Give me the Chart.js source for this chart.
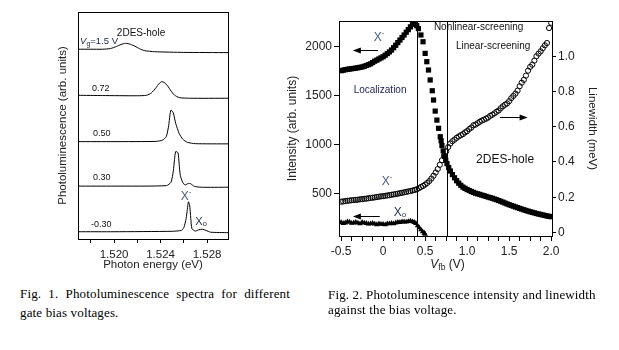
<!DOCTYPE html>
<html>
<head>
<meta charset="utf-8">
<script src="https://cdn.jsdelivr.net/npm/chart.js@4.4.1/dist/chart.umd.min.js"></script>
<style>
  html, body { margin: 0; padding: 0; background: #fff; }
  body { width: 619px; height: 350px; position: relative; overflow: hidden; }
  canvas { position: absolute; top: 0; }
  #fig1 { left: 0; }
  #fig2 { left: 278px; }
  .cap { position: absolute; font-family: 'Liberation Serif', 'Times New Roman', serif; font-size: 13px; letter-spacing: 0.15px; color: #000; }
  #cap1 { left: 20px; top: 284px; width: 270px; line-height: 19px; }
  #cap1 .l1 { text-align: justify; text-align-last: justify; }
  #cap2 { left: 328px; top: 287px; line-height: 15px; white-space: nowrap; }
</style>
</head>
<body>
<canvas id="fig1" width="290" height="280"></canvas>
<canvas id="fig2" width="341" height="280"></canvas>
<div class="cap" id="cap1"><div class="l1">Fig. 1. Photoluminescence spectra for different</div><div>gate bias voltages.</div></div>
<div class="cap" id="cap2">Fig. 2. Photoluminescence intensity and linewidth<br>against the bias voltage.</div>
<script>
// ---- Fig. 1: PL spectra (offset traces, arb. units) ----
const e150 = [1.5169, 1.5180, 1.5190, 1.5197, 1.5202, 1.5206, 1.5210, 1.5214, 1.5218, 1.5222, 1.5226, 1.5235, 1.5260, 1.5298];
const i150 = [83.6, 83.6, 83.6, 83.9, 84.8, 85.7, 86.2, 85.8, 84.9, 83.8, 83.0, 82.5, 82.2, 82.1];
const e072 = [1.5169, 1.5190, 1.5220, 1.5228, 1.5232, 1.5236, 1.5239, 1.5241, 1.5243, 1.5246, 1.5249, 1.5252, 1.5256, 1.5265, 1.5298];
const i072 = [63.3, 63.2, 63.1, 63.3, 64.3, 66.6, 68.6, 69.3, 69.0, 67.5, 65.2, 63.4, 62.3, 62.0, 62.0];
const e050 = [1.5169, 1.5200, 1.5236, 1.5242, 1.5245, 1.5247, 1.5248, 1.5249, 1.5251, 1.5253, 1.5256, 1.5259, 1.5263, 1.5270, 1.5298];
const i050 = [42.9, 42.9, 43.0, 43.6, 45.2, 50.0, 54.5, 56.8, 55.5, 51.0, 46.5, 44.0, 42.6, 42.0, 41.9];
const e030 = [1.5169, 1.5200, 1.5245, 1.5249, 1.5251, 1.5252, 1.5253, 1.5255, 1.5256, 1.5257, 1.5259, 1.5261, 1.5264, 1.5266, 1.5269, 1.5275, 1.5298];
const i030 = [23.3, 23.3, 23.5, 25.0, 30.0, 35.0, 38.5, 38.0, 33.0, 28.0, 25.0, 23.8, 24.5, 24.3, 23.2, 22.8, 22.8];
const em030 = [1.5169, 1.5200, 1.5250, 1.5258, 1.5260, 1.5262, 1.5263, 1.5264, 1.5265, 1.5266, 1.5267, 1.5270, 1.5273, 1.5276, 1.5279, 1.5283, 1.5298];
const im030 = [3.2, 3.2, 3.4, 3.8, 5.0, 9.0, 13.0, 16.4, 15.0, 9.0, 4.5, 3.5, 4.1, 4.3, 3.8, 3.0, 2.8];

const energyTicks = [1.518, 1.520, 1.522, 1.524, 1.526, 1.528];
const energyLabels = ['1.520', '1.524', '1.528'];

// ---- Fig. 2: intensity and linewidth vs bias ----
const vXm = [-0.5, -0.475, -0.45, -0.425, -0.4, -0.375, -0.35, -0.325, -0.3, -0.275, -0.25, -0.225, -0.2, -0.175, -0.15, -0.125,
  -0.1, -0.075, -0.05, -0.025, 0, 0.025, 0.05, 0.075, 0.1, 0.125, 0.15, 0.175, 0.2, 0.225, 0.25, 0.275, 0.3, 0.325, 0.35, 0.37, 0.385, 0.4, 0.42,
  0.45, 0.475, 0.5, 0.52, 0.54, 0.56, 0.585, 0.6, 0.62, 0.64, 0.66, 0.68, 0.69, 0.70, 0.715, 0.73, 0.745,
  0.76, 0.78, 0.8, 0.825, 0.85, 0.875, 0.9, 0.925, 0.95, 0.975, 1.0, 1.025, 1.05, 1.075, 1.1, 1.125, 1.15, 1.175, 1.2, 1.225, 1.25, 1.275,
  1.3, 1.325, 1.35, 1.375, 1.4, 1.425, 1.45, 1.475, 1.5, 1.525, 1.55, 1.575, 1.6, 1.625, 1.65, 1.675, 1.7, 1.725, 1.75, 1.775, 1.8, 1.825,
  1.85, 1.875, 1.9, 1.925, 1.95, 1.975, 2.0];
const intXm = [1755, 1760, 1765, 1769, 1772, 1775, 1778, 1781, 1785, 1789, 1793, 1800, 1808, 1816, 1825, 1838,
  1852, 1863, 1875, 1886, 1898, 1913, 1930, 1947, 1966, 1990, 2015, 2042, 2068, 2094, 2120, 2148, 2175, 2203, 2230, 2250, 2240, 2215, 2185,
  2120, 2051, 1932, 1847, 1762, 1660, 1550, 1455, 1342, 1250, 1166, 1080, 1040, 990, 935, 880, 840,
  805, 765, 730, 693, 660, 630, 605, 583, 565, 552, 540, 530, 520, 511, 502, 496, 490, 483, 477, 470, 463, 457,
  451, 443, 436, 428, 420, 411, 402, 393, 385, 377, 370, 362, 355, 347, 340, 333, 326, 319, 313, 307, 301, 295,
  290, 285, 280, 275, 270, 266, 262];
const vX0 = [-0.5, -0.475, -0.45, -0.425, -0.4, -0.375, -0.35, -0.325, -0.3, -0.275, -0.25, -0.225, -0.2, -0.175, -0.15, -0.125,
  -0.1, -0.075, -0.05, -0.025, 0, 0.025, 0.05, 0.075, 0.1, 0.125, 0.15, 0.175, 0.2, 0.225, 0.25, 0.275, 0.3, 0.325, 0.35, 0.37, 0.39,
  0.41, 0.43, 0.45, 0.47, 0.49, 0.5];
const intX0 = [205, 195, 200, 210, 208, 196, 200, 205, 198, 190, 205, 198, 195, 188, 190, 196,
  188, 182, 192, 186, 185, 180, 190, 192, 195, 190, 200, 205, 205, 212, 210, 208, 215, 218, 212, 205, 195,
  170, 150, 130, 110, 95, 85];
const vLw = [-0.5, -0.475, -0.45, -0.425, -0.4, -0.375, -0.35, -0.325, -0.3, -0.275, -0.25, -0.225, -0.2, -0.175, -0.15, -0.125,
  -0.1, -0.075, -0.05, -0.025, 0, 0.025, 0.05, 0.075, 0.1, 0.125, 0.15, 0.175, 0.2, 0.225, 0.25, 0.275, 0.3, 0.325, 0.35, 0.375,
  0.4, 0.425, 0.45, 0.475, 0.5, 0.525, 0.55, 0.575, 0.6, 0.625, 0.65, 0.675, 0.7, 0.725, 0.75, 0.775, 0.8, 0.825, 0.85, 0.875,
  0.9, 0.925, 0.95, 0.975, 1.0, 1.025, 1.05, 1.075, 1.1, 1.125, 1.15, 1.175, 1.2, 1.225, 1.25, 1.275, 1.3, 1.325, 1.35, 1.375,
  1.4, 1.425, 1.45, 1.475, 1.5, 1.525, 1.55, 1.575, 1.6, 1.625, 1.65, 1.675, 1.7, 1.725, 1.75, 1.775, 1.8, 1.825, 1.85, 1.875,
  1.9, 1.925, 1.95, 1.975, 2.0];
const linewidth = [0.175, 0.176, 0.178, 0.18, 0.181, 0.183, 0.184, 0.185, 0.186, 0.188, 0.189, 0.191, 0.192, 0.194, 0.196, 0.197,
  0.199, 0.201, 0.203, 0.205, 0.206, 0.208, 0.21, 0.212, 0.214, 0.216, 0.218, 0.22, 0.223, 0.225, 0.228, 0.23, 0.233, 0.235, 0.238, 0.241,
  0.245, 0.251, 0.258, 0.264, 0.272, 0.281, 0.292, 0.306, 0.322, 0.34, 0.36, 0.384, 0.41, 0.436, 0.46, 0.485, 0.505, 0.518, 0.527, 0.537,
  0.545, 0.552, 0.558, 0.568, 0.575, 0.587, 0.595, 0.608, 0.612, 0.62, 0.628, 0.635, 0.64, 0.646, 0.652, 0.662, 0.668, 0.676, 0.685, 0.692,
  0.705, 0.716, 0.725, 0.732, 0.745, 0.762, 0.775, 0.788, 0.805, 0.83, 0.85, 0.866, 0.89, 0.918, 0.94, 0.952, 0.975, 1.0, 1.015, 1.028,
  1.045, 1.062, 1.075, 1.16, 1.19];
const regionBounds = [0.405, 0.76];

const biasTicks = [-0.5, -0.375, -0.25, -0.125, 0, 0.125, 0.25, 0.375, 0.5, 0.625, 0.75, 0.875, 1.0, 1.125, 1.25, 1.375, 1.5, 1.625, 1.75, 1.875, 2.0];
const biasLabels = { '-0.5': '-0.5', '0': '0', '0.5': '0.5', '1': '1.0', '1.5': '1.5', '2': '2.0' };
const intensityTicks = [500, 1000, 1500, 2000];
const lwTicks = [0, 0.2, 0.4, 0.6, 0.8, 1.0];
const lwLabels = ['0', '0.2', '0.4', '0.6', '0.8', '1.0'];

const FONT = "'Liberation Sans', Arial, sans-serif";
const INK = '#222';

function pts(xs, ys) { return xs.map((x, i) => ({ x: x, y: ys[i] })); }

function drawRich(ctx, parts, x, y, align, color) {
  ctx.save();
  ctx.fillStyle = color || '#111';
  ctx.textBaseline = 'middle';
  ctx.textAlign = 'left';
  const fontOf = p => (p.italic ? 'italic ' : '') + p.size + 'px ' + FONT;
  let w = 0;
  parts.forEach(p => { ctx.font = fontOf(p); w += ctx.measureText(p.text).width; });
  let cx = align === 'center' ? x - w / 2 : x;
  parts.forEach(p => {
    ctx.font = fontOf(p);
    ctx.fillText(p.text, cx, y + (p.dy || 0));
    cx += ctx.measureText(p.text).width;
  });
  ctx.restore();
}

function drawArrow(ctx, x1, y1, x2, y2) {
  const dir = Math.sign(x2 - x1);
  ctx.save();
  ctx.strokeStyle = '#000';
  ctx.fillStyle = '#000';
  ctx.lineWidth = 1;
  ctx.beginPath();
  ctx.moveTo(x1, y1 + 0.5);
  ctx.lineTo(x2 - dir * 6, y1 + 0.5);
  ctx.stroke();
  ctx.beginPath();
  ctx.moveTo(x2, y2 + 0.5);
  ctx.lineTo(x2 - dir * 8, y2 - 3 + 0.5);
  ctx.lineTo(x2 - dir * 8, y2 + 3 + 0.5);
  ctx.closePath();
  ctx.fill();
  ctx.restore();
}

// frame + annotations, in data coordinates of each chart
const framePlugin = {
  id: 'frame',
  afterDatasetsDraw(chart) {
    const { ctx, chartArea: a } = chart;
    ctx.save();
    ctx.strokeStyle = '#000';
    ctx.lineWidth = 1;
    ctx.strokeRect(Math.round(a.left) + 0.5, Math.round(a.top) + 0.5, Math.round(a.right - a.left), Math.round(a.bottom - a.top));
    ctx.restore();
    const notes = chart.options.plugins.notes || {};
    const xs = chart.scales.x, ys = chart.scales.y;
    (notes.vlines || []).forEach(v => {
      const px = Math.round(xs.getPixelForValue(v)) + 0.5;
      ctx.save();
      ctx.strokeStyle = '#000';
      ctx.beginPath();
      ctx.moveTo(px, a.top);
      ctx.lineTo(px, a.bottom);
      ctx.stroke();
      ctx.restore();
    });
    (notes.arrows || []).forEach(ar => {
      drawArrow(ctx, xs.getPixelForValue(ar.from), Math.round(ys.getPixelForValue(ar.y)),
        xs.getPixelForValue(ar.to), Math.round(ys.getPixelForValue(ar.y)));
    });
    (notes.labels || []).forEach(l => {
      drawRich(ctx, l.parts, xs.getPixelForValue(l.x), ys.getPixelForValue(l.y), l.align, l.color);
    });
    if (notes.xTitle) {
      drawRich(ctx, notes.xTitle, (a.left + a.right) / 2 + 2, 265, 'center', INK);
    }
  }
};

const fig1Notes = {
  labels: [
    { x: 1.52232, y: 90.7, align: 'center', parts: [{ text: '2DES-hole', size: 10 }] },
    { x: 1.51708, y: 87.0, color: '#1a2050', parts: [{ text: 'V', size: 9.5, italic: true }, { text: 'g', size: 7, dy: 2.5 }, { text: '=1.5 V', size: 9.5 }] },
    { x: 1.51811, y: 66.1, parts: [{ text: '0.72', size: 9 }] },
    { x: 1.51819, y: 46.3, parts: [{ text: '0.50', size: 9 }] },
    { x: 1.51819, y: 26.9, parts: [{ text: '0.30', size: 9 }] },
    { x: 1.51802, y: 6.2, parts: [{ text: '-0.30', size: 9 }] },
    { x: 1.52619, y: 18.5, align: 'center', color: '#4a5e80', parts: [{ text: 'X', size: 12 }, { text: '-', size: 8, dy: -5 }] },
    { x: 1.52748, y: 7.5, align: 'center', color: '#2a3550', parts: [{ text: 'X', size: 11 }, { text: 'o', size: 8, dy: 2 }] }
  ]
};

const fig2Notes = {
  vlines: regionBounds,
  arrows: [
    { from: -0.06, to: -0.36, y: 1966 },
    { from: -0.04, to: -0.36, y: 269 },
    { from: 1.39, to: 1.72, y: 1281 }
  ],
  labels: [
    { x: 1.137, y: 2201, align: 'center', parts: [{ text: 'Nonlinear-screening', size: 10 }] },
    { x: 1.31, y: 2007, align: 'center', parts: [{ text: 'Linear-screening', size: 10 }] },
    { x: -0.036, y: 1557, align: 'center', color: '#1a2050', parts: [{ text: 'Localization', size: 10 }] },
    { x: -0.048, y: 2089, align: 'center', color: '#4a5e80', parts: [{ text: 'X', size: 12 }, { text: '-', size: 8, dy: -5 }] },
    { x: 0.048, y: 616, align: 'center', color: '#4a5e80', parts: [{ text: 'X', size: 12 }, { text: '-', size: 8, dy: -5 }] },
    { x: 0.202, y: 300, align: 'center', color: '#2a3550', parts: [{ text: 'X', size: 12 }, { text: 'o', size: 8, dy: 2 }] },
    { x: 1.452, y: 841, align: 'center', parts: [{ text: '2DES-hole', size: 12 }] }
  ],
  xTitle: [{ text: 'V', size: 12, italic: true }, { text: 'fb', size: 8.5, dy: 3 }, { text: ' (V)', size: 12 }]
};

const traces = [[e150, i150], [e072, i072], [e050, i050], [e030, i030], [em030, im030]];

new Chart(document.getElementById('fig1'), {
  type: 'line',
  data: {
    datasets: traces.map(t => ({
      data: pts(t[0], t[1]),
      borderColor: '#000',
      borderWidth: 1,
      pointRadius: 0,
      tension: 0.2
    }))
  },
  options: {
    responsive: false,
    animation: false,
    layout: { padding: { left: 52, right: 62, top: 12, bottom: 8 } },
    plugins: { legend: { display: false }, tooltip: { enabled: false }, notes: fig1Notes },
    scales: {
      x: {
        type: 'linear', min: 1.5169, max: 1.5298,
        afterBuildTicks: s => { s.ticks = energyTicks.map(v => ({ value: v })); },
        afterFit: s => { s.height = 33; },
        border: { display: false },
        grid: { drawOnChartArea: false, tickLength: 4, color: '#000' },
        ticks: {
          autoSkip: false, maxRotation: 0, padding: 5, color: INK, font: { family: FONT, size: 11.5 },
          callback: v => energyLabels.includes(v.toFixed(3)) ? v.toFixed(3) : ''
        },
        title: { display: true, text: 'Photon energy (eV)', color: INK, font: { family: FONT, size: 11.5 }, padding: { top: 0, bottom: 0 } }
      },
      y: {
        min: 0, max: 100,
        afterFit: s => { s.width = 26; },
        border: { display: false },
        grid: { display: false },
        ticks: { display: false },
        title: { display: true, text: 'Photoluminescence (arb. units)', color: INK, font: { family: FONT, size: 11.5 }, padding: { top: 4, bottom: 0 } }
      }
    }
  },
  plugins: [framePlugin]
});

new Chart(document.getElementById('fig2'), {
  type: 'scatter',
  data: {
    datasets: [
      { data: pts(vLw, linewidth), yAxisID: 'y1', pointStyle: 'circle', pointRadius: 2.6, borderWidth: 1, borderColor: '#000', backgroundColor: 'rgba(255,255,255,0)' },
      { data: pts(vXm, intXm), yAxisID: 'y', pointStyle: 'rect', pointRadius: 3.7, borderWidth: 0, backgroundColor: '#000' },
      { data: pts(vX0, intX0), yAxisID: 'y', pointStyle: 'triangle', pointRadius: 3.2, borderWidth: 0, backgroundColor: '#000' }
    ]
  },
  options: {
    responsive: false,
    animation: false,
    layout: { padding: { left: 3, right: 16, top: 21, bottom: 8 } },
    plugins: { legend: { display: false }, tooltip: { enabled: false }, notes: fig2Notes },
    scales: {
      x: {
        type: 'linear', min: -0.525, max: 2.01,
        afterBuildTicks: s => { s.ticks = biasTicks.map(v => ({ value: v })); },
        afterFit: s => { s.height = 36; },
        border: { display: false },
        grid: { drawOnChartArea: false, tickLength: 5, color: '#000' },
        ticks: {
          autoSkip: false, maxRotation: 0, padding: 3, color: INK, font: { family: FONT, size: 12 },
          callback: v => biasLabels[String(v)] || ''
        }
      },
      y: {
        position: 'left', min: 65, max: 2263,
        afterBuildTicks: s => { s.ticks = intensityTicks.map(v => ({ value: v })); },
        afterFit: s => { s.width = 58; },
        border: { display: false },
        grid: { drawOnChartArea: false, tickLength: 5, color: '#000' },
        ticks: { padding: 2, color: INK, font: { family: FONT, size: 12 }, callback: v => String(v) },
        title: { display: true, text: 'Intensity (arb. units)', color: INK, font: { family: FONT, size: 12 }, padding: { top: 4, bottom: 0 } }
      },
      y1: {
        position: 'right', min: -0.02, max: 1.2,
        afterBuildTicks: s => { s.ticks = lwTicks.map(v => ({ value: v })); },
        afterFit: s => { s.width = 51; },
        border: { display: false },
        grid: { drawOnChartArea: false, tickLength: 4, color: '#000' },
        ticks: { padding: 2, color: INK, font: { family: FONT, size: 12 }, callback: (v, i) => lwLabels[i] },
        title: { display: true, text: 'Linewidth (meV)', color: INK, font: { family: FONT, size: 11.5 }, padding: { top: 4, bottom: 0 } }
      }
    }
  },
  plugins: [framePlugin]
});
</script>
</body>
</html>
